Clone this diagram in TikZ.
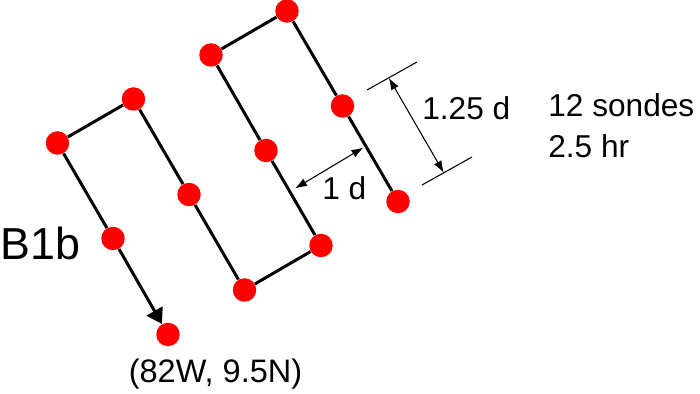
\documentclass[tikz,border=0pt]{standalone}
\usepackage{fontspec}
\setmainfont{Liberation Sans}
\usetikzlibrary{arrows.meta}
\tikzset{
  dot/.style={circle,fill=red,inner sep=0pt,minimum size=4.7mm},
  leg/.style={line width=1.7pt,black},
  ext/.style={line width=0.6pt,black},
  dimarr/.style={{Latex[length=2.4mm,width=1.7mm]}-{Latex[length=2.4mm,width=1.7mm]},line width=0.6pt,black},
  note/.style={font=\fontsize{18}{21}\selectfont,inner sep=0pt}
}

\begin{document}
\begin{tikzpicture}[x=0.02cm,y=-0.02cm]
  \useasboundingbox (0,0) rectangle (700,394);
  % sonde drops, four legs
  \node[dot] (a1) at (57.5,143) {};
  \node[dot] (a2) at (113,238.5) {};
  \node[dot] (a3) at (168,334.5) {};
  \node[dot] (b1) at (133.5,99) {};
  \node[dot] (b2) at (189,194.5) {};
  \node[dot] (b3) at (244.5,290) {};
  \node[dot] (c3) at (211,55) {};
  \node[dot] (c2) at (266,150.5) {};
  \node[dot] (c1) at (321,245.5) {};
  \node[dot] (d1) at (287,11) {};
  \node[dot] (d2) at (342.5,106) {};
  \node[dot] (d3) at (398,201.5) {};
  \draw[leg] (d3)--(d2)--(d1)--(c3)--(c2)--(c1)--(b3)--(b2)--(b1)--(a1)--(a2);
  \draw[leg,-{Triangle[length=3mm,width=3.6mm]}] (a2)--(a3);

  % spacing along the leg
  \coordinate (e1) at (367,90);
  \coordinate (e2) at (417,62);
  \coordinate (e3) at (422,185);
  \coordinate (e4) at (472,157);
  \coordinate (m1) at (388.8,77.8);
  \coordinate (m2) at (443.8,172.8);
  \draw[ext] (e1)--(e2);
  \draw[ext] (e3)--(e4);
  \draw[dimarr] (m1)--(m2);
  \node[note,anchor=base west] (span) at (422,120) {1.25 d};

  % spacing between legs
  \coordinate (g1) at (363.5,147.5);
  \coordinate (g2) at (295,188.5);
  \draw[dimarr] (g1)--(g2);
  \node[note,anchor=base west] (gap) at (322,200) {1 d};

  \node[note,anchor=base west] (count) at (548,117) {12 sondes};
  \node[note,anchor=base west] (time) at (548,158) {2.5 hr};
  \node[note,font=\fontsize{18.5}{22}\selectfont,anchor=base] (start) at (215.5,383) {(82W, 9.5N)};
  \node[note,font=\fontsize{25.5}{30}\selectfont,anchor=base west] (name) at (0,260) {B1b};
\end{tikzpicture}
\end{document}
